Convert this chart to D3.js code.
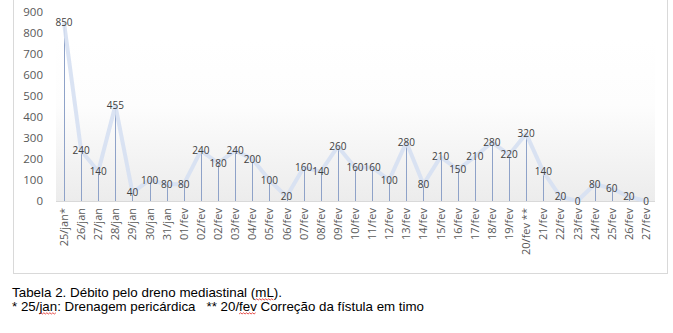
<!DOCTYPE html>
<html><head><meta charset="utf-8">
<script src="https://cdn.jsdelivr.net/npm/d3@7"></script>
<style>
html,body{margin:0;padding:0;background:#fff;}
svg{display:block;}
</style></head>
<body>
<svg id="chart" width="673" height="333"></svg>
<script>
const categories = ["25/jan*","26/jan","27/jan","28/jan","29/jan","30/jan","31/jan","01/fev","02/fev","02/fev","03/fev","04/fev","05/fev","06/fev","07/fev","08/fev","09/fev","10/fev","11/fev","12/fev","13/fev","14/fev","15/fev","16/fev","17/fev","18/fev","19/fev","20/fev **","21/fev","22/fev","23/fev","24/fev","25/fev","26/fev","27/fev"];
const values = [850,240,140,455,40,100,80,80,240,180,240,200,100,20,160,140,260,160,160,100,280,80,210,150,210,280,220,320,140,20,0,80,60,20,0];
const yTicks = [0,100,200,300,400,500,600,700,800,900];
const caption1 = "Tabela 2. Débito pelo dreno mediastinal (mL).";
const caption2 = "* 25/jan: Drenagem pericárdica   ** 20/fev Correção da fístula em timo";

const svg = d3.select("#chart");
const plot = {left:56, right:655, top:12, bottom:201};

// chart border
svg.append("rect").attr("x",13.5).attr("y",-5).attr("width",654).attr("height",278.5)
  .attr("fill","#fff").attr("stroke","#d9d9d9").attr("stroke-width",1);

const idx = categories.map((d,i)=>i);
const x = d3.scalePoint().domain(idx).range([64,646]);
const y = d3.scaleLinear().domain([0,900]).range([plot.bottom, plot.top]);

// gradient plot background
const defs = svg.append("defs");
const grad = defs.append("linearGradient").attr("id","bg").attr("x1",0).attr("y1",0).attr("x2",0).attr("y2",1);
grad.append("stop").attr("offset","0%").attr("stop-color","#ffffff");
grad.append("stop").attr("offset","40%").attr("stop-color","#fdfdfd");
grad.append("stop").attr("offset","100%").attr("stop-color","#ececec");
svg.append("rect").attr("x",plot.left).attr("y",40).attr("width",plot.right-plot.left).attr("height",plot.bottom-40)
  .attr("fill","url(#bg)");

// y axis
const yAxis = d3.axisLeft(y).tickValues(yTicks).tickSize(0).tickPadding(0);
const gy = svg.append("g").attr("transform","translate(43,0)").call(yAxis);
gy.select(".domain").remove();
gy.selectAll("text").attr("font-family","Open Sans, sans-serif").attr("font-size","11.5px").attr("fill","#595959");

// x axis line
svg.append("line").attr("x1",plot.left).attr("x2",plot.right).attr("y1",plot.bottom+0.5).attr("y2",plot.bottom+0.5)
  .attr("stroke","#d9d9d9").attr("stroke-width",1);

// drop lines
svg.append("g").selectAll("line").data(values).join("line")
  .attr("x1",(d,i)=>Math.round(x(i))+0.5).attr("x2",(d,i)=>Math.round(x(i))+0.5)
  .attr("y1",d=>y(d)).attr("y2",plot.bottom)
  .attr("stroke","#8ea2c8").attr("stroke-width",1);

// line
const line = d3.line().x((d,i)=>x(i)).y(d=>y(d));
svg.append("path").datum(values).attr("d",line).attr("fill","none")
  .attr("stroke","#d6e0f2").attr("stroke-width",4).attr("stroke-linejoin","round").attr("opacity",0.9);

// data labels
svg.append("g").selectAll("text").data(values).join("text")
  .attr("x",(d,i)=>x(i)).attr("y",d=>y(d)).attr("dy","0.35em")
  .attr("text-anchor","middle").attr("font-family","Open Sans, sans-serif").attr("font-size","10px")
  .attr("fill","#404040").text(d=>d);

// x labels
svg.append("g").selectAll("text").data(categories).join("text")
  .attr("transform",(d,i)=>`translate(${x(i)+4},208) rotate(-90)`)
  .attr("text-anchor","end").attr("font-family","Open Sans, sans-serif").attr("font-size","11px")
  .attr("fill","#595959").text(d=>d);

// caption
const cap = svg.append("g").attr("font-family","Liberation Sans, Arial, sans-serif").attr("font-size","13.5px").attr("fill","#000");
const t1 = cap.append("text").attr("x",12).attr("y",297).attr("textLength",270).attr("lengthAdjust","spacingAndGlyphs")
  .style("white-space","pre").text(caption1);
const t2 = cap.append("text").attr("x",12).attr("y",311).attr("textLength",412).attr("lengthAdjust","spacingAndGlyphs")
  .style("white-space","pre").text(caption2.replace(/ {2,}/g, m => "\u00a0".repeat(m.length-1) + " "));

// spelling squiggles
function squiggle(textSel, word, baseY){
  const node = textSel.node();
  const str = node.textContent;
  const start = str.indexOf(word);
  const x0 = node.getStartPositionOfChar(start).x;
  const x1 = node.getEndPositionOfChar(start+word.length-1).x;
  let d = `M${x0},${baseY}`;
  let up = true;
  for(let xx=x0+1.5; xx<=x1; xx+=1.5){ d += ` L${xx},${baseY + (up? -1.2:0)}`; up=!up; }
  svg.append("path").attr("d",d).attr("fill","none").attr("stroke","#e0231f").attr("stroke-width",0.8);
}
squiggle(t1,"mL",300);
squiggle(t2,"jan",314);
squiggle(t2,"fev",314);
</script>
</body></html>
